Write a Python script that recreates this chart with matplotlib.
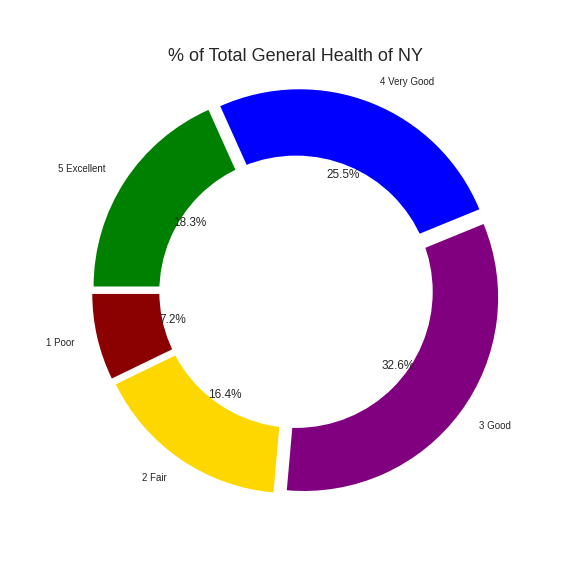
import matplotlib.pyplot as plt

labels = ['1 Poor', '2 Fair', '3 Good', '4 Very Good', '5 Excellent']
sizes = [7.2, 16.4, 32.6, 25.5, 18.3]
colors = ['darkred', 'gold', 'purple', 'blue', 'green']

plt.rcParams['font.family'] = ['Liberation Sans', 'DejaVu Sans']
fig, ax = plt.subplots(figsize=(5.76, 5.76), dpi=100)
ax.pie(sizes, labels=labels, colors=colors, autopct='%1.1f%%', startangle=180,
       pctdistance=0.6, labeldistance=1.12, explode=[0.05] * 5,
       textprops={'fontsize': 7, 'color': '#262626'})
for t in ax.texts:
    if t.get_text().endswith('%'):
        t.set_fontsize(8.5)
ax.add_artist(plt.Circle((0, 0), 0.7, color='white'))
ax.set_title('% of Total General Health of NY', fontsize=13, color='#262626')
ax.axis('equal')
plt.savefig('out.png')
